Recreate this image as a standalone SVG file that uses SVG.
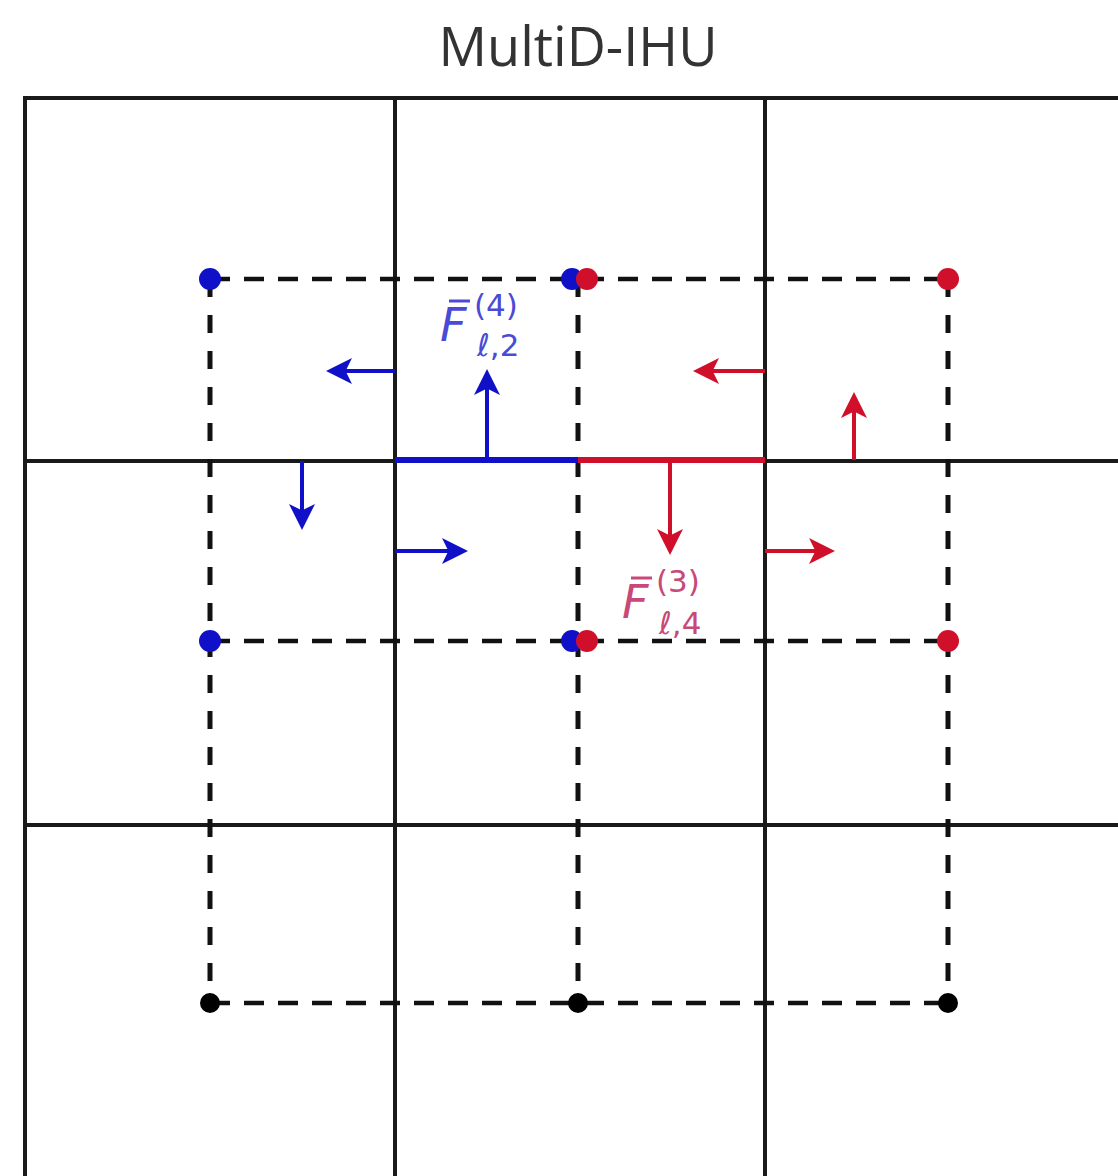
<svg xmlns="http://www.w3.org/2000/svg" width="1118" height="1176" viewBox="0 0 1118 1176">
<style>
.grid{stroke:#1a1a1a;stroke-width:4;fill:none}
.dash{stroke:#111;stroke-width:4.5;stroke-dasharray:20 14;fill:none}
.dashv{stroke:#111;stroke-width:5;stroke-dasharray:18 18;fill:none}
.b{stroke:#1010c8;fill:none}
.r{stroke:#d0102a;fill:none}
.bf{fill:#1010c8}
.rf{fill:#d0102a}
.lab{font-family:"DejaVu Sans",sans-serif}
</style>
<defs>
<marker id="ab" markerWidth="6.5" markerHeight="6.5" refX="5.5" refY="3.25" orient="auto" markerUnits="strokeWidth"><path d="M0,0 L6.5,3.25 L0,6.5 L1.6,3.25 Z" fill="#1010c8"/></marker>
<marker id="ar" markerWidth="6.5" markerHeight="6.5" refX="5.5" refY="3.25" orient="auto" markerUnits="strokeWidth"><path d="M0,0 L6.5,3.25 L0,6.5 L1.6,3.25 Z" fill="#d0102a"/></marker>
</defs>
<rect width="1118" height="1176" fill="#fff"/>
<text x="578" y="66" text-anchor="middle" font-family="'Open Sans',sans-serif" font-size="54" fill="#333">MultiD-IHU</text>
<g id="grid">
<path class="grid" d="M25,1190 L25,98 L1140,98"/>
<line class="grid" x1="395" y1="98" x2="395" y2="1190"/>
<line class="grid" x1="765" y1="98" x2="765" y2="1190"/>
<line class="grid" x1="25" y1="461" x2="1140" y2="461"/>
<line class="grid" x1="25" y1="825" x2="1140" y2="825"/>
</g>
<g id="dashed">
<line class="dash" x1="210" y1="279" x2="948" y2="279"/>
<line class="dash" x1="210" y1="641" x2="948" y2="641"/>
<line class="dash" x1="210" y1="1003" x2="948" y2="1003"/>
<line class="dashv" x1="210" y1="279" x2="210" y2="1003"/>
<line class="dashv" x1="578" y1="279" x2="578" y2="1003"/>
<line class="dashv" x1="948" y1="279" x2="948" y2="1003"/>
</g>
<g id="faces">
<line class="b" stroke-width="6" x1="395" y1="460" x2="578" y2="460"/>
<line class="r" stroke-width="6" x1="578" y1="460" x2="765" y2="460"/>
</g>
<g id="connectors">
<line class="b" stroke-width="4" x1="395" y1="371" x2="330" y2="371" marker-end="url(#ab)"/>
<line class="b" stroke-width="4" x1="487" y1="460" x2="487" y2="373" marker-end="url(#ab)"/>
<line class="b" stroke-width="4" x1="302" y1="461" x2="302" y2="526" marker-end="url(#ab)"/>
<line class="b" stroke-width="4" x1="395" y1="551" x2="464" y2="551" marker-end="url(#ab)"/>
<line class="r" stroke-width="4" x1="765" y1="371" x2="697" y2="371" marker-end="url(#ar)"/>
<line class="r" stroke-width="4" x1="854" y1="460" x2="854" y2="396" marker-end="url(#ar)"/>
<line class="r" stroke-width="4" x1="670" y1="461" x2="670" y2="551" marker-end="url(#ar)"/>
<line class="r" stroke-width="4" x1="765" y1="551" x2="831" y2="551" marker-end="url(#ar)"/>
</g>
<g id="dots">
<circle class="bf" cx="210" cy="279" r="11"/>
<circle class="bf" cx="210" cy="641" r="11"/>
<circle class="bf" cx="572" cy="279" r="11"/>
<circle class="bf" cx="572" cy="641" r="11"/>
<circle class="rf" cx="587" cy="279" r="11"/>
<circle class="rf" cx="587" cy="641" r="11"/>
<circle class="rf" cx="948" cy="279" r="11"/>
<circle class="rf" cx="948" cy="641" r="11"/>
<circle cx="210" cy="1003" r="10" fill="#000"/>
<circle cx="578" cy="1003" r="10" fill="#000"/>
<circle cx="948" cy="1003" r="10" fill="#000"/>
</g>
<g id="label-blue" class="lab" fill="#4a4ad6">
<text x="440" y="341" font-size="46" font-style="italic">F</text>
<line x1="449" y1="301" x2="470" y2="301" stroke="#4a4ad6" stroke-width="3"/>
<text x="474" y="316" font-size="31">(4)</text>
<text x="477" y="356" font-size="31"><tspan font-style="italic">ℓ</tspan>,2</text>
</g>
<g id="label-red" class="lab" fill="#c84878">
<text x="622" y="618" font-size="46" font-style="italic">F</text>
<line x1="631" y1="578" x2="652" y2="578" stroke="#c84878" stroke-width="3"/>
<text x="656" y="592" font-size="31">(3)</text>
<text x="659" y="634" font-size="31"><tspan font-style="italic">ℓ</tspan>,4</text>
</g>
</svg>
